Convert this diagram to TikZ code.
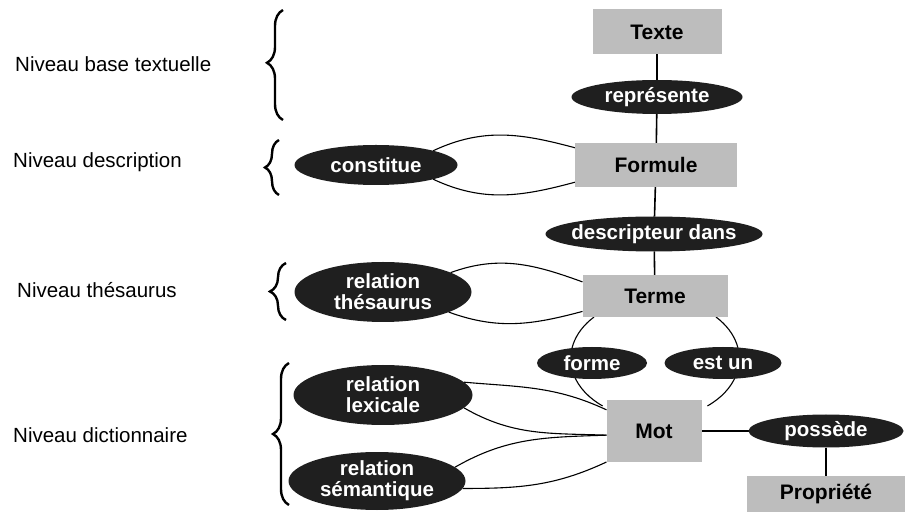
\documentclass[tikz,border=0pt]{standalone}
\usepackage{fontspec}
\setmainfont{Liberation Sans}
\usetikzlibrary{shapes.geometric,decorations.pathreplacing,backgrounds}

\tikzset{
  relation/.style={ellipse, fill=black!88, text=white, inner sep=0pt, outer sep=0pt,
    font=\fontsize{20.5}{21}\selectfont\bfseries, align=center},
  entity/.style={rectangle, fill=black!26, inner sep=0pt, outer sep=0pt,
    font=\fontsize{21}{22}\selectfont\bfseries},
  level/.style={anchor=base west, inner sep=0pt, font=\fontsize{20.5}{22}\selectfont},
  link/.style={line width=1.6pt},
  arcline/.style={line width=1.1pt},
  levelbrace/.style={decorate, decoration={brace, amplitude=16pt}, line width=2.4pt},
}

\begin{document}
\begin{tikzpicture}[x=1pt, y=1pt]
\useasboundingbox (0,0) rectangle (909,511);

% level labels
\node[level] (l1) at (15,439) {Niveau base textuelle};
\node[level] (l2) at (13,343) {Niveau description};
\node[level] (l3) at (17,213) {Niveau thésaurus};
\node[level] (l4) at (13,69)  {Niveau dictionnaire};

% braces grouping each level
\draw[levelbrace, decoration={aspect=0.52}] (283,391) -- (283,501);
\draw[levelbrace, decoration={amplitude=14pt}] (279,316) -- (279,371);
\draw[levelbrace] (286,191) -- (286,248);
\draw[levelbrace, decoration={aspect=0.5}] (289,6) -- (289,148);

% entities and relations
\node[entity, minimum width=129pt, minimum height=45pt] (texte) at (657,479) {Texte};
\node[relation, minimum width=171pt, minimum height=34pt] (represente) at (657,414) {représente};
\node[entity, minimum width=162pt, minimum height=44pt] (formule) at (656,346) {Formule};
\node[relation, minimum width=163pt, minimum height=40pt] (constitue) at (376,346) {constitue};
\node[relation, minimum width=217pt, minimum height=35pt] (descripteur) at (654,277) {\makebox[0pt]{descripteur dans}};
\node[entity, minimum width=145pt, minimum height=42pt] (terme) at (655,215) {Terme};
\node[relation, minimum width=177pt, minimum height=60pt] (thesaurus) at (383,219) {relation\\thésaurus};
\node[relation, minimum width=110pt, minimum height=32pt] (forme) at (592,148) {forme};
\node[relation, minimum width=117pt, minimum height=32pt] (estun) at (723,148) {est un};
\node[entity, minimum width=95pt, minimum height=62pt] (mot) at (654,80) {Mot};
\node[relation, minimum width=179pt, minimum height=60pt] (lexicale) at (383,116) {relation\\lexicale};
\node[relation, minimum width=177pt, minimum height=58pt] (semantique) at (377,30) {relation\\sémantique};
\node[relation, minimum width=155pt, minimum height=33pt] (possede) at (826,80) {possède};
\node[entity, minimum width=158pt, minimum height=36pt] (propriete) at (826,17) {Propriété};

% connectors, drawn behind the filled shapes
\begin{scope}[on background layer]
  \draw[link] (texte) -- (represente);
  \draw[link] (represente) -- (formule);
  \draw[link] (formule) -- (descripteur);
  \draw[link] (descripteur) -- (terme);
  \draw[link] (mot) -- (possede);
  \draw[link] (possede) -- (propriete);

  \draw[arcline] (constitue.14) to[out=25,in=165] (formule.168);
  \draw[arcline] (constitue.-14) to[out=-25,in=195] (formule.192);

  \draw[arcline] (thesaurus.16) to[out=20,in=160] (terme.169);
  \draw[arcline] (thesaurus.-17) to[out=-20,in=195] (terme.192);

  % round loop Terme -> Mot passing behind "forme" and "est un"
  \draw[arcline] (terme.199) arc[start angle=136, end angle=232, x radius=83pt, y radius=60pt];
  \draw[arcline] (terme.-19) arc[start angle=44, end angle=-52, x radius=83pt, y radius=60pt];

  \draw[arcline] (lexicale.9) to[out=-5,in=155] (mot.156);
  \draw[arcline] (lexicale.-9) to[out=-30,in=178] (mot.185);
  \draw[arcline] (semantique.10) to[out=30,in=182] (mot.185);
  \draw[arcline] (semantique.-5) to[out=0,in=205] (mot.south west);
\end{scope}
\end{tikzpicture}
\end{document}
